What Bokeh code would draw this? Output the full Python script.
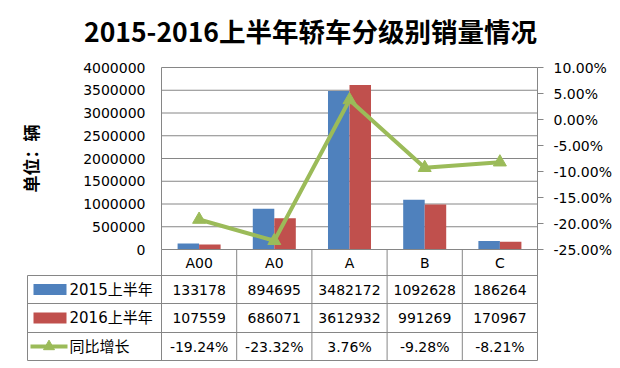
import math
from bokeh.plotting import figure
from bokeh.models import (Range1d, LinearAxis, FixedTicker, PrintfTickFormatter,
                          NumeralTickFormatter, Label)
from bokeh.core.properties import value
from bokeh.embed import file_html
from bokeh.resources import INLINE

# ---------------- data ----------------
categories = ["A00", "A0", "A", "B", "C"]
sales_2015 = [133178, 894695, 3482172, 1092628, 186264]
sales_2016 = [107559, 686071, 3612932, 991269, 170967]
growth_pct = [-19.24, -23.32, 3.76, -9.28, -8.21]
series_names = ["2015上半年", "2016上半年", "同比增长"]
left_ticks = [0, 500000, 1000000, 1500000, 2000000, 2500000, 3000000, 3500000, 4000000]
right_ticks = [-25, -20, -15, -10, -5, 0, 5, 10]
title_text = "2015-2016上半年轿车分级别销量情况"
unit_label = "单位：辆"

# ---------------- layout constants (canvas pixels) ----------------
W, H = 620, 366
COL0 = 161.0            # canvas x of left edge of first category column
COLW = 75.2             # width of a category column
Y_TOP, Y_ZERO = 67.0, 249.0   # canvas y of top / bottom of chart area
ROW_Y = [249, 275, 303, 332, 360]  # table row boundaries (canvas y)
TABLE_LEFT = 27.0

BLUE, RED, GREEN = "#4F81BD", "#C0504D", "#9BBB59"
GRID = "#868686"
NUM_FONT = "'DejaVu Sans', 'Noto Sans CJK SC'"
CJK_BOLD = "'Noto Sans CJK SC'"

n = len(categories)
left_max, left_min = left_ticks[-1], left_ticks[0]
pct_max, pct_min = right_ticks[-1], right_ticks[0]


def xd(cx):
    return (cx - COL0) / COLW


ypp = (left_max - left_min) / (Y_ZERO - Y_TOP)
ppp = (pct_max - pct_min) / (Y_ZERO - Y_TOP)

p = figure(width=W, height=H,
           x_range=Range1d(xd(0), xd(W)),
           y_range=Range1d(left_min - (H - Y_ZERO) * ypp, left_max + Y_TOP * ypp),
           x_axis_type=None, y_axis_type=None,
           toolbar_location=None, output_backend="svg",
           min_border=0, outline_line_color=None)
p.extra_y_ranges = {
    "pct": Range1d(pct_min - (H - Y_ZERO) * ppp, pct_max + Y_TOP * ppp),
    "tbl": Range1d(-H, 0),
}

# grid lines
p.segment(x0=0, x1=n, y0=left_ticks[1:], y1=left_ticks[1:], line_color=GRID, line_width=1)

# bars
centers = [i + 0.5 for i in range(n)]
bw = 0.286
p.vbar(x=[c - bw / 2 for c in centers], top=sales_2015, width=bw, bottom=0,
       fill_color=BLUE, line_color=None)
p.vbar(x=[c + bw / 2 for c in centers], top=sales_2016, width=bw, bottom=0,
       fill_color=RED, line_color=None)

# growth line
p.line(x=centers, y=growth_pct, y_range_name="pct", line_color=GREEN, line_width=4)
p.scatter(x=centers, y=growth_pct, y_range_name="pct", marker="triangle", size=13,
          fill_color=GREEN, line_color=GREEN)

# axes
la = LinearAxis(fixed_location=0, bounds=(left_min, left_max),
                ticker=FixedTicker(ticks=left_ticks),
                formatter=NumeralTickFormatter(format="0"),
                major_tick_out=0, major_tick_in=0, minor_tick_out=0, minor_tick_in=0,
                axis_line_color=GRID, major_label_standoff=16,
                major_label_text_font=NUM_FONT, major_label_text_font_size="14px",
                major_label_text_color="#000000")
p.add_layout(la, "left")
ra = LinearAxis(y_range_name="pct", fixed_location=n, bounds=(pct_min, pct_max),
                ticker=FixedTicker(ticks=right_ticks),
                formatter=PrintfTickFormatter(format="%.2f%%"),
                major_tick_out=6, major_tick_in=0, minor_tick_out=0, minor_tick_in=0,
                axis_line_color=GRID, major_tick_line_color=GRID, major_label_standoff=10,
                major_label_text_font=NUM_FONT, major_label_text_font_size="14px",
                major_label_text_color="#000000")
p.add_layout(ra, "right")

# ---------------- data table ----------------
ty = [-v for v in ROW_Y]
tl = xd(TABLE_LEFT)
# horizontal lines
p.segment(x0=0, x1=n, y0=ty[0], y1=ty[0], y_range_name="tbl", line_color=GRID, line_width=1)
p.segment(x0=tl, x1=n, y0=ty[1:], y1=ty[1:], y_range_name="tbl", line_color=GRID, line_width=1)
# vertical lines
p.segment(x0=list(range(n + 1)), x1=list(range(n + 1)), y0=ty[0], y1=ty[-1],
          y_range_name="tbl", line_color=GRID, line_width=1)
p.segment(x0=tl, x1=tl, y0=ty[1], y1=ty[-1], y_range_name="tbl", line_color=GRID, line_width=1)

row_mid = [(ty[i] + ty[i + 1]) / 2 for i in range(len(ty) - 1)]
txt = dict(text_align="center", text_baseline="middle", text_font=value(NUM_FONT),
           text_font_size="14px", text_color="#000000", y_range_name="tbl")
p.text(x=centers, y=[row_mid[0]] * n, text=categories, **txt)
p.text(x=centers, y=[row_mid[1]] * n, text=[str(v) for v in sales_2015], **txt)
p.text(x=centers, y=[row_mid[2]] * n, text=[str(v) for v in sales_2016], **txt)
p.text(x=centers, y=[row_mid[3]] * n, text=[f"{v:.2f}%" for v in growth_pct], **txt)

# legend keys
p.rect(x=[xd(49.5)] * 2, y=row_mid[1:3], width=33, height=11,
       width_units="screen", height_units="screen",
       fill_color=[BLUE, RED], line_color=None, y_range_name="tbl")
p.segment(x0=xd(30), x1=xd(67), y0=row_mid[3], y1=row_mid[3], line_color=GREEN,
          line_width=4, y_range_name="tbl")
p.scatter(x=[xd(48.5)], y=[row_mid[3]], marker="triangle", size=11,
          fill_color=GREEN, line_color=GREEN, y_range_name="tbl")
p.text(x=[xd(69)] * 3, y=row_mid[1:4], text=series_names, text_align="left",
       text_baseline="middle", text_font=value(NUM_FONT), text_font_size="15px",
       text_color="#000000", y_range_name="tbl")

# title and unit label
p.add_layout(Label(x=310, y=H - 30, x_units="screen", y_units="screen", text=title_text,
                   text_align="center", text_baseline="middle", text_font=CJK_BOLD,
                   text_font_style="bold", text_font_size="26.5px", text_color="#000000"))
p.add_layout(Label(x=29.5, y=H - 158, x_units="screen", y_units="screen", text=unit_label,
                   angle=math.pi / 2, text_align="center", text_baseline="middle",
                   text_font=CJK_BOLD, text_font_style="bold", text_font_size="17px",
                   text_color="#000000"))

open("out.html", "w").write(file_html(p, INLINE))
